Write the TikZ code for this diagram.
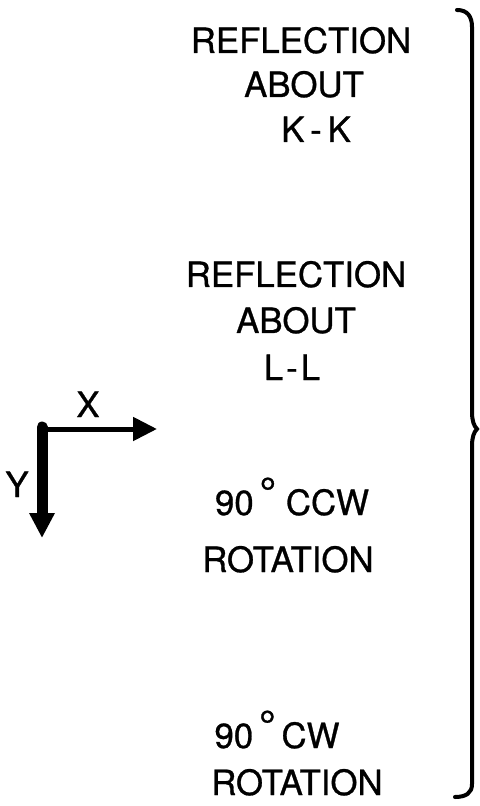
\documentclass[tikz,border=0pt]{standalone}
\usepackage{fontspec}
\setmainfont{TeX Gyre Heros}[FakeBold=0.8]
\usetikzlibrary{arrows.meta}
\newcommand{\degr}{\raisebox{4pt}{\scalebox{1.2}{°}}}
\tikzset{lbl/.style={font=\fontsize{17.4}{20}\selectfont, anchor=base, inner sep=0pt}}
\begin{document}
\begin{tikzpicture}[x = 0.5pt, y = 0.5pt, yscale = -1]
\useasboundingbox (0,0) rectangle (479,806);
% axes
\coordinate (o) at (42,429);
\coordinate (xend) at (157,429);
\coordinate (yend) at (42,538);
\draw[line width = 2.5pt, -{Triangle[length=12pt, width=11.5pt]}] ([xshift=-2.5pt]o) -- (xend);
\draw[line width = 5.5pt, line cap = round, -{Triangle[length=12.5pt, width=12pt]}] ([yshift=-1pt]o) -- (yend);
\node[lbl] (xlab) at (88,417) {X};
\node[lbl] (ylab) at (17,497) {Y};
\foreach \name/\x/\y/\txt in {refk/301/53/REFLECTION, aboutk/304/97/ABOUT, kk/316/142/K\,-\,K,
  refl/296/287/REFLECTION, aboutl/296/333/ABOUT, ll/292/380/L\kern1.5pt-\kern1.5pt L,
  ccw/292/515/90\,\degr\ CCW, rotccw/288/572/ROTATION,
  cw/277/748/90\,\degr\,CW, rotcw/297/795/ROTATION}
{
\node[lbl] (\name) at (\x,\y) {\txt};
}
% brace on the right
\draw[line width = 2pt, line cap = round] (457,10) .. controls (467,10) and (472,16) .. (472,27)
  -- (472,412) .. controls (472,421) and (474,426) .. (477,429)
  .. controls (474,432) and (472,437) .. (472,446)
  -- (472,784) .. controls (472,793) and (466,797) .. (455,797);
\end{tikzpicture}
\end{document}
